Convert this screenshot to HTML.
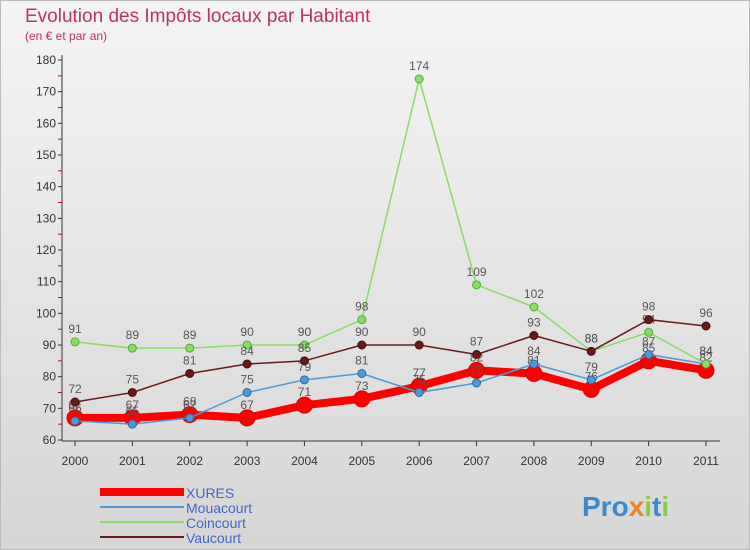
<!DOCTYPE html>
<html><head><meta charset="utf-8"><style>
body{margin:0;width:750px;height:550px;overflow:hidden;font-family:"Liberation Sans",sans-serif}
#bg{position:absolute;left:0;top:0;width:748px;height:548px;border:1px solid #bbb;background:linear-gradient(#f4f4f4,#d6d6d6)}
</style></head><body>
<div id="bg"></div>
<svg id="c" width="750" height="550" style="position:absolute;left:0;top:0">
<text x="25" y="22" font-size="19" fill="#c0306a">Evolution des Impôts locaux par Habitant</text>
<text x="25" y="40" font-size="12" fill="#c0306a">(en € et par an)</text>
</svg>
<script>
const years=["2000","2001","2002","2003","2004","2005","2006","2007","2008","2009","2010","2011"];
const yTicks=[60,70,80,90,100,110,120,130,140,150,160,170,180];
const xures=[67,67,68,67,71,73,77,82,81,76,85,82];
const mouacourt=[66,65,67,75,79,81,75,78,84,79,87,84];
const coincourt=[91,89,89,90,90,98,174,109,102,88,94,84];
const vaucourt=[72,75,81,84,85,90,90,87,93,88,98,96];
const NS="http://www.w3.org/2000/svg";
const svg=document.getElementById('c');
const X=i=>75+i*(706-75)/11;
const Y=v=>440-(v-60)*(380/120);
function mk(t,a,p){const e=document.createElementNS(NS,t);for(const k in a)e.setAttribute(k,a[k]);(p||svg).appendChild(e);return e;}
// axes
let ax=mk('line',{x1:62,y1:55,x2:62,y2:441,stroke:'#333'});


let bx=mk('line',{x1:62,y1:441,x2:720,y2:441,stroke:'#333'});


yTicks.forEach(v=>{
  let t=mk('text',{x:56,y:Y(v)+4,'font-size':12,'text-anchor':'end',fill:'#333'});t.textContent=v;
  
  
  mk('line',{x1:58,y1:Y(v),x2:62,y2:Y(v),stroke:'#333'});
  if(v<180)mk('line',{x1:58,y1:Y(v+5),x2:62,y2:Y(v+5),stroke:'#d00'});
});
years.forEach((y,i)=>{
  mk('line',{x1:X(i),y1:441,x2:X(i),y2:446,stroke:'#333'});
  let t=mk('text',{x:X(i),y:465,'font-size':12,'text-anchor':'middle',fill:'#333'});t.textContent=y;
  
  
});
function series(vals,color,w,r,name,stroke){
  const g=mk('g',{});
  
  
  mk('polyline',{points:vals.map((v,i)=>X(i)+','+Y(v)).join(' '),fill:'none',stroke:color,'stroke-width':w,'stroke-linejoin':'round'},g);
  vals.forEach((v,i)=>{
    const c=mk('circle',{cx:X(i),cy:Y(v),r:r,fill:color,stroke:stroke,'stroke-width':1},g);
    
    
    const t=mk('text',{x:X(i),y:Y(v)-9,'font-size':12,'text-anchor':'middle',fill:'#555'},g);t.textContent=v;
  });
}
series(xures,'#f00',8,8,'xures','#d00');
series(mouacourt,'#4a9ad8',1.5,4,'mouacourt','#2a6aa8');
series(coincourt,'#88dd66',1.5,4,'coincourt','#55aa33');
series(vaucourt,'#6a1a1a',1.5,4,'vaucourt','#4a0a0a');
const leg=[['XURES','#f00',8],['Mouacourt','#4a9ad8',2],['Coincourt','#88dd66',2],['Vaucourt','#6a1a1a',2]];
leg.forEach((l,i)=>{
  const g=mk('g',{});
  
  
  const y=492+i*15;
  mk('line',{x1:100,y1:y,x2:184,y2:y,stroke:l[1],'stroke-width':l[2]},g);
  const t=mk('text',{x:186,y:y+6,'font-size':14,fill:'#4466cc'},g);t.textContent=l[0];
});
const lg=mk('text',{x:582,y:516,'font-size':28,'font-weight':'bold',fill:'#3a8ad0'});


lg.innerHTML='Pro<tspan fill="#f08020">x</tspan><tspan fill="#88cc44">i</tspan>t<tspan fill="#88cc44">i</tspan>';
</script>
</body></html>
